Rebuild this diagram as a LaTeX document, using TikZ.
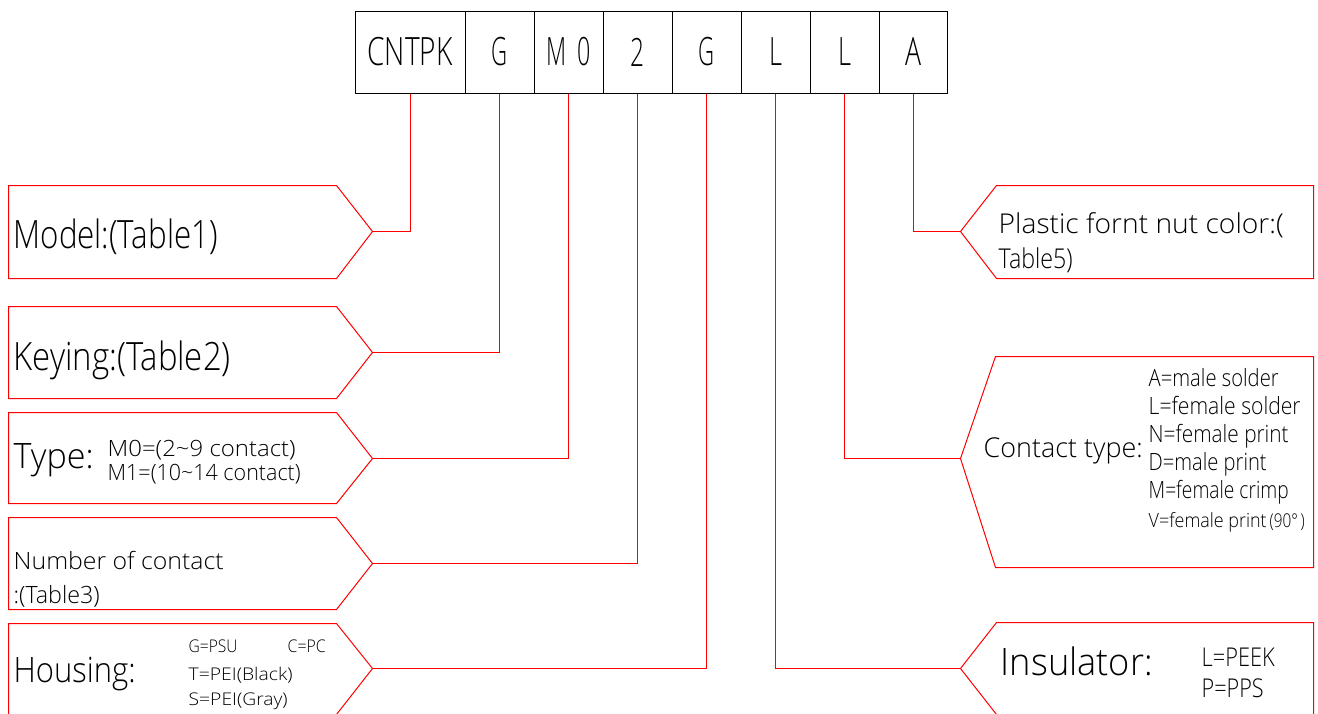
\documentclass[tikz,border=0pt]{standalone}
\usepackage{fontspec}
\usepackage{graphicx}
\IfFontExistsTF{Open Sans Light}{\newfontfamily\cad{Open Sans Light}}{%
  \IfFontExistsTF{Lato Light}{\newfontfamily\cad{Lato Light}}{%
    \IfFontExistsTF{Fira Sans Light}{\newfontfamily\cad{Fira Sans Light}}{%
      \newfontfamily\cad{Open Sans}}}}
\newcommand\cadsz[1]{\cad\fontsize{#1}{#1}\selectfont}
\newcommand\cw[3]{\resizebox{#1pt}{\height}{\cadsz{#2}#3}}
\definecolor{cadred}{RGB}{255,0,0}
\tikzset{
  codebox/.style={draw=black, line width=1pt, minimum width=#1, minimum height=82pt,
                  inner sep=0pt, anchor=north west},
  tagshape/.style={draw=cadred, line width=1pt},
  lead/.style={draw=cadred, line width=1pt},
  lbl/.style={anchor=base west, inner sep=0pt, text=black},
}
\begin{document}
\begin{tikzpicture}[x=1pt,y=-1pt]
\useasboundingbox (0,0) rectangle (1318,713);
\clip (0,0) rectangle (1318,713);
\begin{scope}[shift={(0.5,0.5)}]
% ---- code boxes ----
\node[codebox=110pt] (b1) at (354,10) {\raisebox{-3pt}{\cw{85}{39}{CNTPK}}};
\node[codebox=69pt]  (b2) at (464,10) {\raisebox{-3pt}{\cw{16}{39}{G}}};
\node[codebox=69pt]  (b3) at (533,10) {\raisebox{-3pt}{\cw{45}{39}{M\hspace{0.5em}0}}};
\node[codebox=69pt]  (b4) at (602,10) {\raisebox{-3pt}{\cw{14}{39}{2}}};
\node[codebox=69pt]  (b5) at (671,10) {\raisebox{-3pt}{\cw{16}{39}{G}}};
\node[codebox=69pt]  (b6) at (740,10) {\raisebox{-3pt}{\cw{13}{39}{L}}};
\node[codebox=69pt]  (b7) at (809,10) {\raisebox{-3pt}{\cw{13}{39}{L}}};
\node[codebox=68pt]  (b8) at (878,10) {\raisebox{-3pt}{\cw{16}{39}{A}}};

% ---- left tags ----
\draw[tagshape] (8,185) -- (336,185) -- (372,231) -- (336,278) -- (8,278) -- cycle;
\coordinate (t1) at (372,231);
\draw[tagshape] (8,306) -- (336,306) -- (372,352) -- (336,398) -- (8,398) -- cycle;
\coordinate (t2) at (372,352);
\draw[tagshape] (8,412) -- (336,412) -- (372,458) -- (336,503) -- (8,503) -- cycle;
\coordinate (t3) at (372,458);
\draw[tagshape] (8,517) -- (336,517) -- (372,563) -- (336,609) -- (8,609) -- cycle;
\coordinate (t4) at (372,563);
\draw[tagshape] (8,623) -- (336,623) -- (372,668) -- (336,714) -- (8,714) -- cycle;
\coordinate (t5) at (372,668);

% ---- right tags ----
\draw[tagshape] (996,185) -- (1313,185) -- (1313,278) -- (996,278) -- (960,231) -- cycle;
\coordinate (r1) at (960,231);
\draw[tagshape] (995,356) -- (1313,356) -- (1313,567) -- (995,567) -- (960,458) -- cycle;
\coordinate (r2) at (960,458);
\draw[tagshape] (996,622) -- (1313,622) -- (1313,714) -- (996,714) -- (960,668) -- cycle;
\coordinate (r3) at (960,668);

% ---- leaders ----
\draw[lead] (b1.south) |- (t1);
\draw[lead] (b2.south) |- (t2);
\draw[lead] (b3.south) |- (t3);
\draw[lead] (b4.south) |- (t4);
\draw[lead] (b5.south) |- (t5);
\draw[lead] (b6.south) |- (r3);
\draw[lead] (b7.south) |- (r2);
\draw[lead] (b8.south) |- (r1);

% ---- left texts ----
\node[lbl] (l1) at (13,248) {\cw{204}{39}{Model:(Table1)}};
\node[lbl] (l2) at (13,370) {\cw{217}{39}{Keying:(Table2)}};
\node[lbl] (l3) at (13,468) {\cw{80}{35}{Type:}};
\node[lbl] (l3a) at (107,456) {\cw{188}{22.4}{M0=(2\textasciitilde9 contact)}};
\node[lbl] (l3b) at (107,480) {\cw{193}{22.4}{M1=(10\textasciitilde14 contact)}};
\node[lbl] (l4a) at (13,569) {\cw{210}{23.8}{Number of contact}};
\node[lbl] (l4b) at (13,603) {\cw{86}{23.8}{:(Table3)}};
\node[lbl] (l5) at (13,682) {\cw{122}{35}{Housing:}};
\node[lbl] (l5a) at (188,652) {\cw{49}{17.5}{G=PSU}};
\node[lbl] (l5b) at (287,652) {\cw{38}{17.5}{C=PC}};
\node[lbl] (l5c) at (188,680) {\cw{104}{17.5}{T=PEI(Black)}};
\node[lbl] (l5d) at (188,705) {\cw{99}{17.5}{S=PEI(Gray)}};

% ---- right texts ----
\node[lbl] (p1) at (998,233) {\cw{285}{27.3}{Plastic fornt nut color:(}};
\node[lbl] (p2) at (998,268) {\cw{74}{27.3}{Table5)}};
\node[lbl] (c0) at (983,457) {\cw{159}{27.3}{Contact type:}};
\node[lbl] (c1) at (1148,386) {\cw{130}{23.8}{A=male solder}};
\node[lbl] (c2) at (1148,414) {\cw{152}{23.8}{L=female solder}};
\node[lbl] (c3) at (1148,442) {\cw{140}{23.8}{N=female print}};
\node[lbl] (c4) at (1148,470) {\cw{118}{23.8}{D=male print}};
\node[lbl] (c5) at (1148,498) {\cw{140}{23.8}{M=female crimp}};
\node[lbl] (c6) at (1148,527) {\cw{118}{19.6}{V=female print}};
\node[lbl] (c6b) at (1269,527) {\cw{35}{19}{(90°\,)}};
\node[lbl] (i0) at (1000,675) {\cw{152}{37.8}{Insulator:}};
\node[lbl] (i1) at (1201,666) {\cw{73}{25.9}{L=PEEK}};
\node[lbl] (i2) at (1201,697) {\cw{62}{25.9}{P=PPS}};
\end{scope}
\end{tikzpicture}
\end{document}
